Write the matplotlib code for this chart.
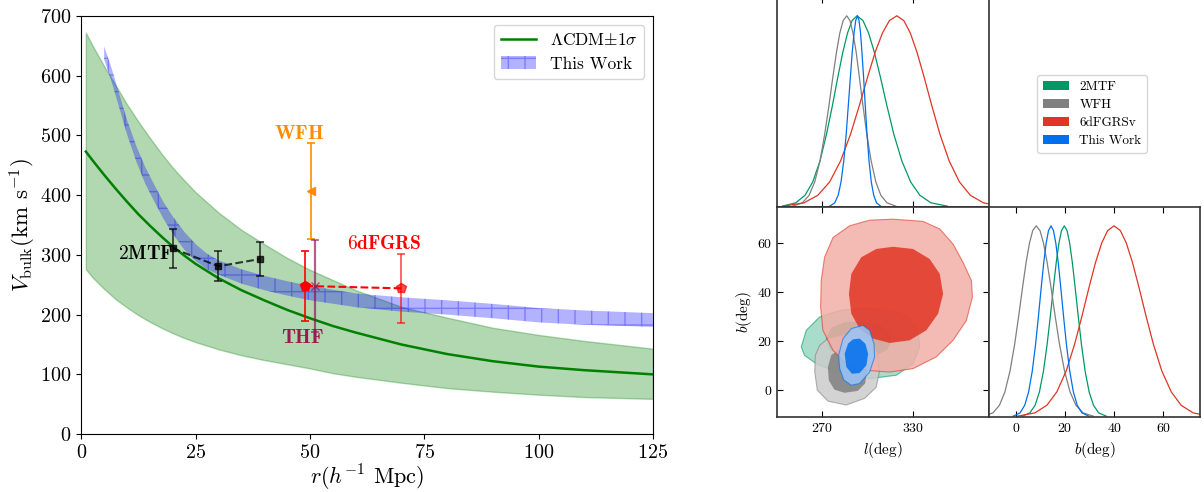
import numpy as np
import matplotlib
matplotlib.use("Agg")
import matplotlib.pyplot as plt
from matplotlib.colors import to_rgb
from matplotlib.patches import Patch

plt.rcParams['font.family'] = 'serif'
plt.rcParams['font.serif'] = ['cmr10']
plt.rcParams['mathtext.fontset'] = 'cm'
plt.rcParams['axes.formatter.use_mathtext'] = True

# ---------------- left panel data ----------------
lcdm_r = [1, 2.5, 5, 7.5, 10, 12.5, 15, 17.5, 20, 22.5, 25, 30, 35, 40, 45, 50, 55, 60, 70, 80, 90, 100, 110, 125]
lcdm_mid = [473, 458, 434, 411, 389, 368, 349, 331, 314, 299, 285, 261, 241, 224, 208, 194, 181, 170, 150, 134, 122, 113, 107, 100]
lcdm_hi = [672, 650, 616, 584, 552, 523, 496, 470, 446, 425, 405, 371, 342, 318, 295, 275, 258, 241, 213, 195, 178, 166, 156, 143]
lcdm_lo = [276, 262, 243, 226, 212, 199, 188, 178, 169, 161, 154, 142, 132, 124, 117, 110, 102, 96, 86, 77, 71, 66, 62, 59]

work_r = [5, 6, 7, 8, 10, 12, 14, 16, 18, 20, 22.5, 25, 27.5, 30, 35, 40, 45, 50, 60, 70, 80, 90, 100, 110, 125]
work_lo = [627, 605, 580.5, 554.5, 502, 457, 419, 389, 360, 335.5, 309, 290, 276, 267, 252, 241, 232, 224, 212.5, 205, 200, 194, 187, 183, 179.5]
work_hi = [649, 627, 603.5, 577.5, 526, 483, 447, 417, 388, 364.5, 339, 318, 302, 291, 276, 265, 256, 248, 235.5, 229, 224, 218, 211, 207, 202.5]

mtf_r = [20, 30, 39]
mtf_v = [311, 281, 293]
mtf_e = [33, 25, 28]

wfh_r = [50.2]
wfh_v = [407]
wfh_e = [81]

sixdf_r = [49, 70]
sixdf_v = [248, 244]
sixdf_e = [58, 58]

thf_r = [51.1]
thf_v = [248]
thf_e = [77]

# ---------------- corner data ----------------
dens_profile = [0.003, 0.02, 0.06, 0.13, 0.24, 0.38, 0.53, 0.68, 0.81, 0.91, 0.975, 1.0,
                0.975, 0.91, 0.81, 0.68, 0.53, 0.38, 0.24, 0.13, 0.06, 0.02, 0.003]

green_l = [243.6, 252.4, 258.6, 263.7, 268.5, 272.8, 276.7, 280.3, 283.6, 286.7, 289.7, 293.0,
           296.9, 300.6, 304.4, 308.4, 312.7, 317.3, 322.6, 328.4, 334.5, 341.9, 352.7]
gray_l = [250.4, 256.8, 261.3, 265.0, 268.5, 271.6, 274.4, 277.0, 279.4, 281.6, 283.8, 286.2,
          288.3, 290.3, 292.4, 294.5, 296.9, 299.4, 302.3, 305.4, 308.7, 312.8, 318.6]
red_l = [244.3, 257.8, 267.1, 274.9, 282.1, 288.7, 294.5, 300.0, 305.0, 309.8, 314.4, 319.3,
         323.9, 328.2, 332.6, 337.3, 342.4, 347.8, 353.9, 360.7, 367.9, 376.6, 389.2]
blue_l = [274.9, 278.2, 280.5, 282.4, 284.2, 285.8, 287.2, 288.6, 289.8, 291.0, 292.1, 293.3,
          294.3, 295.3, 296.2, 297.3, 298.4, 299.6, 300.9, 302.4, 304.0, 305.9, 308.6]

green_b = [2.65, 5.71, 7.84, 9.60, 11.25, 12.74, 14.06, 15.31, 16.45, 17.53, 18.57, 19.7,
           20.83, 21.87, 22.95, 24.09, 25.34, 26.66, 28.15, 29.80, 31.56, 33.69, 36.75]
gray_b = [-13.18, -9.32, -6.64, -4.43, -2.34, -0.46, 1.20, 2.77, 4.21, 5.57, 6.88, 8.3,
          9.83, 11.25, 12.71, 14.27, 15.96, 17.76, 19.79, 22.04, 24.43, 27.32, 31.48]
red_b = [0.70, 7.73, 12.62, 16.67, 20.48, 23.90, 26.94, 29.80, 32.44, 34.91, 37.31, 39.9,
         42.49, 44.89, 47.36, 50.0, 52.86, 55.90, 59.32, 63.17, 67.18, 72.07, 79.10]
blue_b = [-1.04, 1.71, 3.63, 5.21, 6.70, 8.04, 9.23, 10.35, 11.38, 12.35, 13.29, 14.3,
          15.31, 16.25, 17.22, 18.25, 19.37, 20.56, 21.90, 23.39, 24.97, 26.89, 29.64]

green_out_l = [256.1, 259.4, 268.2, 281.5, 296.9, 312.4, 325.6, 333.3, 334.4, 330.0, 319.0, 301.3, 281.5, 266.0, 258.3]
green_out_b = [17.6, 24.4, 29.8, 32.5, 33.5, 32.8, 30.5, 24.4, 17.6, 10.7, 6.0, 4.6, 6.7, 10.7, 14.1]
green_in_l = [272.5, 276, 285, 296, 307, 314, 316, 313, 304, 293, 282, 275]
green_in_b = [21, 25.5, 27.8, 28.3, 27, 24, 20.5, 16.5, 13.5, 12.8, 13.8, 16.5]
gray_out_l = [268.2, 273.7, 284.7, 295.7, 303.4, 306.7, 307.8, 305.6, 297.9, 285.8, 273.7, 266.7, 265.0, 265.4]
gray_out_b = [18.2, 21.0, 22.6, 21.9, 19.2, 14.2, 7.4, 1.0, -3.5, -6.2, -4.6, -0.1, 7.4, 14.2]
gray_in_l = [275.9, 280.3, 286.9, 293.5, 297.9, 299.7, 298.3, 293.5, 284.7, 278.0, 274.3, 273.7]
gray_in_b = [14.2, 16.2, 16.8, 16.2, 13.5, 8.0, 2.6, -0.4, -1.2, 0.1, 3.9, 9.3]
red_out_l = [316.8, 336.6, 347.7, 356.5, 363.1, 368.6, 369.3, 365.3, 356.5, 345.4, 330.0, 314.6, 299.1, 285.9, 277.1, 270.4, 268.9, 269.3, 271.5, 277.1, 288.1, 301.3]
red_out_b = [69.9, 69.0, 65.9, 59.7, 52.2, 44.8, 38.0, 28.4, 20.3, 13.5, 8.7, 7.3, 8.0, 10.7, 16.2, 24.4, 33.9, 44.8, 54.3, 62.4, 67.2, 69.5]
red_in_l = [316.8, 330.0, 341.0, 347.7, 349.9, 346.6, 338.8, 327.8, 314.6, 303.5, 294.7, 289.2, 287.6, 289.2, 295.8, 305.7]
red_in_b = [58.6, 57.7, 53.6, 47.5, 39.3, 31.2, 24.4, 20.3, 19.2, 21.0, 25.0, 31.2, 39.3, 47.5, 54.3, 57.7]
blue_out_l = [296.9, 301.3, 304.2, 304.6, 301.3, 294.7, 289.2, 284.3, 281.5, 280.8, 283.7, 289.2]
blue_out_b = [26.4, 24.4, 18.9, 13.5, 7.3, 2.6, 1.9, 4.0, 8.7, 14.2, 21.0, 25.1]
blue_in_l = [294.7, 298.5, 300.3, 299.2, 294.7, 289.6, 285.9, 284.8, 287.0, 290.3]
blue_in_b = [21.0, 18.9, 14.8, 10.1, 6.9, 6.6, 9.4, 14.8, 18.9, 20.7]

names = ['2MTF', 'WFH', '6dFGRSv', 'This Work']
colors = ['#009966', 'gray', '#E03424', '#006FED']

# ---------------- figure ----------------
fig = plt.figure(figsize=(12.04, 4.92), dpi=100)

ax = fig.add_axes([0.0675, 0.1177, 0.4748, 0.8498])
ax.fill_between(lcdm_r, lcdm_lo, lcdm_hi, color='green', alpha=0.3, lw=1)
ax.plot(lcdm_r, lcdm_mid, color='green', lw=1.8, label=r'$\Lambda$CDM$\pm1\sigma$')
ax.fill_between(work_r, work_lo, work_hi, facecolor='blue', edgecolor='blue',
                alpha=0.3, hatch='+', lw=0, label='This Work')

ax.errorbar(mtf_r, mtf_v, yerr=mtf_e, fmt='s--', color='k', alpha=0.75, ms=4,
            capsize=3, lw=1.5, elinewidth=1.2, capthick=1.2)
ax.errorbar(wfh_r, wfh_v, yerr=wfh_e, fmt='<', color='darkorange', ms=6,
            capsize=3, elinewidth=1.2, capthick=1.2)
ax.plot(sixdf_r, sixdf_v, '--', color='red', lw=1.5)
ax.errorbar(sixdf_r[:1], sixdf_v[:1], yerr=sixdf_e[:1], fmt='p', color='red', ms=7,
            capsize=3, elinewidth=1.2, capthick=1.2)
ax.errorbar(sixdf_r[1:], sixdf_v[1:], yerr=sixdf_e[1:], fmt='p', color='red', ms=7,
            capsize=3, elinewidth=1.2, capthick=1.2, alpha=0.7)
ax.errorbar(thf_r, thf_v, yerr=thf_e, fmt='x', color='#8b0a50', alpha=0.65, ms=6,
            capsize=3, elinewidth=1.6, capthick=1.2)

ax.text(14.0, 302, r'$\mathbf{2MTF}$', color='k', fontsize=14, ha='center', va='center')
ax.text(47.7, 503, r'$\mathbf{WFH}$', color='darkorange', fontsize=14.5, ha='center', va='center')
ax.text(66.2, 319, r'$\mathbf{6dFGRS}$', color='red', fontsize=14, ha='center', va='center')
ax.text(48.5, 161, r'$\mathbf{THF}$', color='#991a4d', fontsize=14.5, ha='center', va='center')

ax.set_xlim(0, 125)
ax.set_ylim(0, 700)
ax.set_xticks([0, 25, 50, 75, 100, 125])
ax.set_yticks(range(0, 701, 100))
ax.tick_params(labelsize=14.5)
ax.set_xlabel(r'$r(h^{-1}$ Mpc$)$', fontsize=16, labelpad=1)
ax.set_ylabel(r'$V_{\rm bulk}$(km s$^{-1}$)', fontsize=16.5)
ax.yaxis.set_label_coords(-0.076, 0.5)
ax.legend(loc='upper right', fontsize=12.5)

# ---------------- corner ----------------
ax_l = fig.add_axes([0.6453, 0.5799, 0.1758, 0.4268])
ax_2 = fig.add_axes([0.6453, 0.1530, 0.1758, 0.4268])
ax_b = fig.add_axes([0.8212, 0.1530, 0.1758, 0.4268])

l_curves = [green_l, gray_l, red_l, blue_l]
b_curves = [green_b, gray_b, red_b, blue_b]
for xs, c in zip(l_curves, colors):
    ax_l.plot(xs, dens_profile, color=c, lw=0.9)
for xs, c in zip(b_curves, colors):
    ax_b.plot(xs, dens_profile, color=c, lw=0.9)

contours = [
    (green_out_l, green_out_b, green_in_l, green_in_b),
    (gray_out_l, gray_out_b, gray_in_l, gray_in_b),
    (red_out_l, red_out_b, red_in_l, red_in_b),
    (blue_out_l, blue_out_b, blue_in_l, blue_in_b),
]
for (ol, ob, il, ib), c in zip(contours, colors):
    rgb = np.array(to_rgb(c))
    tint = tuple(0.4 * rgb + 0.6)
    ax_2.fill(ol, ob, facecolor=tint, edgecolor='none', alpha=0.85)
    ax_2.fill(il, ib, facecolor=c, edgecolor='none', alpha=0.85)
    ax_2.fill(ol, ob, facecolor='none', edgecolor=c, lw=0.8, alpha=0.6)

ax_l.set_xlim(240, 380)
ax_l.set_ylim(0, 1.1)
ax_l.set_xticks([270, 330])
ax_l.set_xticklabels([])
ax_l.set_yticks([])

ax_2.set_xlim(240, 380)
ax_2.set_ylim(-11, 75)
ax_2.set_xticks([270, 330])
ax_2.set_yticks([0, 20, 40, 60])
ax_2.set_xlabel(r'$l$(deg)', fontsize=11)
ax_2.set_ylabel(r'$b$(deg)', fontsize=11, labelpad=2)

ax_b.set_xlim(-11, 75)
ax_b.set_ylim(0, 1.1)
ax_b.set_xticks([0, 20, 40, 60])
ax_b.set_yticks([])
ax_b.set_xlabel(r'$b$(deg)', fontsize=11)

for a in (ax_l, ax_2, ax_b):
    a.tick_params(direction='in', labelsize=10, length=4, top=True, right=True)
    for s in a.spines.values():
        s.set_linewidth(1.2)
        s.set_color('#333333')

handles = [Patch(facecolor=c, edgecolor='none') for c in colors]
fig.legend(handles, names, loc='center', bbox_to_anchor=(1092 / 1204, 1 - 114 / 492),
           fontsize=9.5, labelspacing=0.45)

fig.savefig('out.png', dpi=100)
